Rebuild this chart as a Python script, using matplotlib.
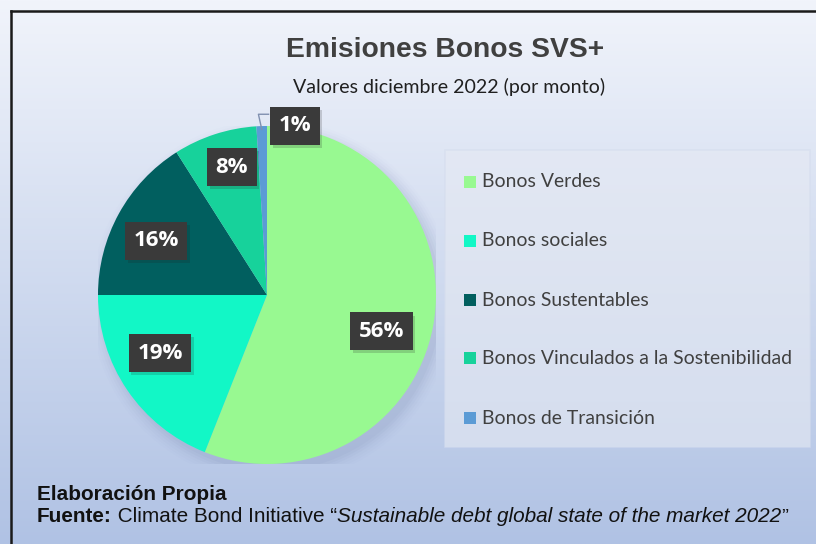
import numpy as np
import matplotlib
matplotlib.use("Agg")
import matplotlib.pyplot as plt
from matplotlib.lines import Line2D
from matplotlib.patches import Rectangle, Ellipse

# ---- data ----
categories = ["Bonos Verdes", "Bonos sociales", "Bonos Sustentables",
              "Bonos Vinculados a la Sostenibilidad", "Bonos de Transición"]
values = [56, 19, 16, 8, 1]
labels = ["56%", "19%", "16%", "8%", "1%"]
colors = ["#98f991", "#12f7c6", "#015f5f", "#17d29b", "#5b9bd5"]
title = "Emisiones Bonos SVS+"
subtitle = "Valores diciembre 2022 (por monto)"
footer1 = "Elaboración Propia"
footer2 = [("Fuente:", "bold", "normal"),
           (" Climate Bond Initiative \u201c", "normal", "normal"),
           ("Sustainable debt global state of the market 2022", "normal", "italic"),
           ("\u201d", "normal", "normal")]

W, H = 816, 544
fig = plt.figure(figsize=(W / 100, H / 100), dpi=100)
fig.canvas.draw()
renderer = fig.canvas.get_renderer()


def fit(t, target_w):
    bb = t.get_window_extent(renderer)
    t.set_fontsize(t.get_fontsize() * target_w / bb.width)


# background gradient
bg = fig.add_axes([0, 0, 1, 1], zorder=-10)
grad = np.linspace(0, 1, 256)[:, None]
top = np.array([0xf1, 0xf4, 0xfb]) / 255
bot = np.array([0xb0, 0xc2, 0xe4]) / 255
img = top[None, None, :] * (1 - grad[..., None]) + bot[None, None, :] * grad[..., None]
img = np.repeat(img, 4, axis=1)
bg.imshow(img, aspect="auto", extent=[0, 1, 0, 1], origin="upper")
bg.set_xlim(0, 1); bg.set_ylim(0, 1)
bg.axis("off")

# border (left and top)
fig.add_artist(Line2D([11 / W, 11 / W], [0, 1 - 11 / H], transform=fig.transFigure,
                      color="#1a1a1a", lw=1.8))
fig.add_artist(Line2D([11 / W, 1], [1 - 11 / H, 1 - 11 / H], transform=fig.transFigure,
                      color="#1a1a1a", lw=1.8))

# pie
cx, cy, R = 267, 295, 169
ax = fig.add_axes([(cx - R) / W, (H - cy - R) / H, 2 * R / W, 2 * R / H])
for i, a in enumerate(np.linspace(0.05, 0.01, 6)):
    ax.add_patch(Ellipse((0.03, -0.04), 2.0 + 0.03 * i, 2.0 + 0.03 * i,
                         color="#6070a0", alpha=a, lw=0, zorder=0))
wedges, _ = ax.pie(values, colors=colors, startangle=90, counterclock=False,
                   radius=1.0, wedgeprops=dict(lw=0))
ax.set_aspect("equal")
ax.set_xlim(-1, 1); ax.set_ylim(-1, 1)
ax.axis("off")

label_r = [0.71, 0.72, 0.73, 0.785, 1.015]
label_dang = [-6.7, -5.7, 2.8, -2.7, -11.2]
for w, lab, r, da in zip(wedges, labels, label_r, label_dang):
    ang = np.deg2rad((w.theta1 + w.theta2) / 2 + da)
    x = r * np.cos(ang)
    y = r * np.sin(ang)
    ax.text(x + 0.015, y - 0.02, lab, ha="center", va="center", fontsize=16,
            fontweight="bold", color="white", family="Open Sans", alpha=0.0,
            bbox=dict(boxstyle="square,pad=0.38", fc="#202020", ec="none", alpha=0.18),
            zorder=4)
    ax.text(x, y, lab, ha="center", va="center", fontsize=16, fontweight="bold",
            color="white", family="Open Sans",
            bbox=dict(boxstyle="square,pad=0.38", fc="#3a3a3a", ec="none"), zorder=5)

# leader line for smallest slice
w = wedges[-1]
ang = np.deg2rad((w.theta1 + w.theta2) / 2)
px, py = np.cos(ang) * 0.98, np.sin(ang) * 0.98
ax.plot([px, px - 0.02, px + 0.04], [py, py + 0.09, py + 0.09],
        color="#8090b0", lw=1.0, zorder=3, clip_on=False)

# legend box
lx0, ly0, lx1, ly1 = 445, 150, 810, 447
fig.add_artist(Rectangle((lx0 / W, 1 - ly1 / H), (lx1 - lx0) / W, (ly1 - ly0) / H,
                         transform=fig.transFigure, fc="#e6eaf3", ec="#d5ddee",
                         alpha=0.6, lw=1.2))
leg_y = [182, 241, 300, 358, 418]
leg_texts = []
for c, name, yy in zip(colors, categories, leg_y):
    fig.add_artist(Rectangle((464 / W, 1 - (yy + 6) / H), 12 / W, 12 / H,
                             transform=fig.transFigure, fc=c, ec="none"))
    leg_texts.append(fig.text(482 / W, 1 - yy / H, name, ha="left", va="center",
                              fontsize=12, color="#404040", family="Lato"))
longest = max(leg_texts, key=lambda t: t.get_window_extent(renderer).width)
scale = 308 / longest.get_window_extent(renderer).width
for t in leg_texts:
    t.set_fontsize(t.get_fontsize() * scale)

# titles
tt = fig.text(445 / W, 1 - 50 / H, title, ha="center", va="center", fontsize=20,
              fontweight="bold", color="#404040", family="Liberation Sans")
fit(tt, 318)
st = fig.text(449 / W, 1 - 87 / H, subtitle, ha="center", va="center", fontsize=13,
              color="#202020", family="Lato")
fit(st, 310)

# footer
parts = []
xpix = 37
for txt, wt, sty in footer2:
    t = fig.text(xpix / W, 1 - 517 / H, txt, ha="left", va="center", fontsize=12,
                 fontweight=wt, style=sty, color="#111111", family="Liberation Sans")
    parts.append(t)
    xpix += t.get_window_extent(renderer).width
total = xpix - 37
fs = 12 * 752 / total
xpix = 37
for t in parts:
    t.set_fontsize(fs)
    t.set_x(xpix / W)
    xpix += t.get_window_extent(renderer).width
fig.text(37 / W, 1 - 495 / H, footer1, ha="left", va="center",
         fontsize=fs, fontweight="bold", color="#111111", family="Liberation Sans")

fig.savefig("out.png", dpi=100)
